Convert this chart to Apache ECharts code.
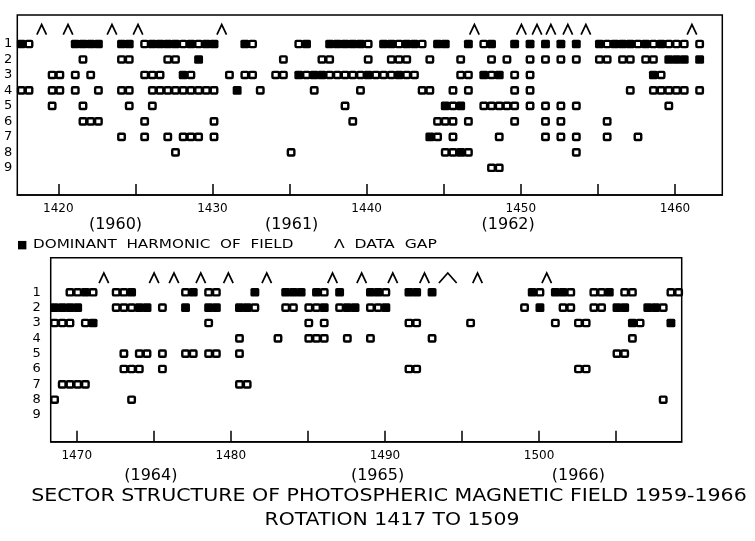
<!DOCTYPE html>
<html><head><meta charset="utf-8">
<script src="https://cdn.jsdelivr.net/npm/echarts@6/dist/echarts.min.js"></script>
<style>html,body{margin:0;padding:0;background:#fff}#c{width:755px;height:541px}</style>
</head><body><div id="c"></div>
<script>
const FONT = 'DejaVu Sans';
// Harmonic rows 1..9 ; each character = one half-rotation bin
// '.' none, 'o' harmonic present, '#' dominant harmonic of field
const binWidth = 0.5;
const topStart = 1417.35;
const topRow1 = "#o.....###" + "#..##.o###" + "#o#o##...#" + "o.....o#.." + "#####o.##o" + "##o.##..#." + "o#..#.#.#." + "#.#..#o###" + "o#o#ooo.o." + "..";
const topRow2 = "........o." + "...oo....o" + "o..#......" + "....o....o" + "o....o..oo" + "o..o...o.." + ".o.o..o.o." + "o.o..oo.oo" + ".oo.###.#." + "..";
const topRow3 = "....oo.o.o" + "......ooo." + ".#o....o.o" + "o..oo.#o##" + "ooooo#ooo#" + "oo.....oo." + "#o#.o.o..." + ".........." + "..#o......" + "..";
const topRow4 = "oo..oo.o.." + "o..oo..ooo" + "oooooo..#." + ".o......o." + "....o....." + "..oo..o.o." + "....o.o..." + ".........o" + "..ooooo.o." + "..";
const topRow5 = "....o...o." + "....o..o.." + ".........." + ".........." + "..o......." + ".....#o#.." + "ooooo.o.o." + "o.o......." + "....o....." + "..";
const topRow6 = "........oo" + "o.....o..." + ".....o...." + ".........." + "...o......" + "....ooo.o." + "....o...o." + "o.....o..." + ".........." + "..";
const topRow7 = ".........." + "...o..o..o" + ".ooo.o...." + ".........." + ".........." + "...#o.o..." + "..o.....o." + "o.o...o..." + "o........." + "..";
const topRow8 = ".........." + ".........." + "o........." + ".....o...." + ".........." + ".....oo#o." + ".........." + "..o......." + ".........." + "..";
const topRow9 = ".........." + ".........." + ".........." + ".........." + ".........." + ".........." + ".oo......." + ".........." + ".........." + "..";
const topRows = [topRow1, topRow2, topRow3, topRow4, topRow5, topRow6, topRow7, topRow8, topRow9];

const bottomStart = 1468.31;
const botRow1 = "..oo#o..oo" + "#......o#." + "oo....#..." + "###.#o.#.." + ".##o..##.#" + ".........." + "..#o.##o.." + "oo#.oo...." + "oo";
const botRow2 = "####....oo" + "o##.o..#.." + "##..##o..." + "oo.oo#.o##" + ".oo#......" + ".........." + ".o.#..oo.." + "oo.##..##o" + "..";
const botRow3 = "ooo.o#...." + ".........." + "o........." + "...o.o...." + "......oo.." + "....o....." + ".....o..oo" + ".....#o..." + "#.";
const botRow4 = ".........." + ".........." + "....o....o" + "...ooo..o." + ".o.......o" + ".........." + ".........." + ".....o...." + "..";
const botRow5 = ".........o" + ".oo.o..oo." + "oo..o....." + ".........." + ".........." + ".........." + ".........." + "...oo....." + "..";
const botRow6 = ".........o" + "oo..o....." + ".........." + ".........." + "......oo.." + ".........." + "........oo" + ".........." + "..";
const botRow7 = ".oooo....." + ".........." + "....oo...." + ".........." + ".........." + ".........." + ".........." + ".........." + "..";
const botRow8 = "o........." + "o........." + ".........." + ".........." + ".........." + ".........." + ".........." + ".........o" + "..";
const botRow9 = "";
const bottomRows = [botRow1, botRow2, botRow3, botRow4, botRow5, botRow6, botRow7, botRow8, botRow9];

// data gaps: [rotation, duration in rotations]
const topGaps = [[1418.92,0.62],[1420.63,0.62],[1423.48,0.62],[1425.17,0.62],[1430.6,0.62],[1446.99,0.62],[1450.04,0.62],[1451.05,0.62],[1451.95,0.62],[1453.05,0.62],[1454.22,0.62],[1461.1,0.62]];
const bottomGaps = [[1471.76,0.62],[1475.02,0.62],[1476.31,0.62],[1478.05,0.62],[1479.84,0.62],[1482.33,0.62],[1486.6,0.62],[1488.49,0.62],[1490.51,0.62],[1492.57,0.62],[1494.08,1.15],[1496.01,0.62],[1500.5,0.62]];

const harmonics = [1,2,3,4,5,6,7,8,9];
const topTicks = [1420,1425,1430,1435,1440,1445,1450,1455,1460];
const topLabels = [1420,1430,1440,1450,1460];
const bottomTicks = [1470,1475,1480,1485,1490,1495,1500,1505];
const bottomLabels = [1470,1480,1490,1500];
const topYearPos = [1423.71,1435.14,1449.18];
const topYearText = ['(1960)','(1961)','(1962)'];
const bottomYearPos = [1474.81,1489.52,1502.55];
const bottomYearText = ['(1964)','(1965)','(1966)'];

function toCells(rows, start) {
  const out = [];
  rows.forEach((s, i) => {
    for (let j = 0; j < s.length; j++) {
      const ch = s[j];
      if (ch === 'o') out.push([start + j * binWidth, i + 1, 0]);
      else if (ch === '#') out.push([start + j * binWidth, i + 1, 1]);
    }
  });
  return out;
}
const CELL_H = 7.4;
function renderCell(params, api) {
  const x = api.value(0), y = api.value(1), t = api.value(2);
  const p0 = api.coord([x, y]);
  const p1 = api.coord([x + binWidth, y]);
  const w = p1[0] - p0[0];
  const h = CELL_H;
  if (t === 1) {
    return {type: 'rect', shape: {x: p0[0] - 0.6, y: p0[1] - h / 2 - 0.6, width: w + 1.2, height: h + 1.2, r: 1.5},
      style: {fill: '#000'}};
  }
  return {type: 'rect', z2: 2, shape: {x: p0[0] + 0.6, y: p0[1] - h / 2 + 0.6, width: w - 1.2, height: h - 1.2, r: 1},
    style: {fill: '#fff', stroke: '#000', lineWidth: 2.4}};
}
const GAP_Y = 0.07;
function renderGap(params, api) {
  const r = api.value(0), d = api.value(1);
  const c = api.coord([r, GAP_Y]);
  const e = api.coord([r + d / 2, GAP_Y]);
  const hw = e[0] - c[0];
  return {type: 'polyline', shape: {points: [[c[0] - hw, c[1] + 5], [c[0], c[1] - 5], [c[0] + hw, c[1] + 5]]},
    style: {fill: null, stroke: '#000', lineWidth: 1.7}};
}
function lookup(pos, txt) {
  return function (v) {
    let best = 0;
    for (let i = 1; i < pos.length; i++) if (Math.abs(pos[i] - v) < Math.abs(pos[best] - v)) best = i;
    return txt[best];
  };
}
const axisText = {color: '#000', fontFamily: FONT};
function mainX(grid, min, max, ticks, labels) {
  return {gridIndex: grid, type: 'value', min: min, max: max, position: 'bottom',
    axisLine: {show: true, onZero: false, lineStyle: {color: '#000', width: 1.5}},
    splitLine: {show: false},
    axisTick: {show: true, inside: true, length: 11, lineStyle: {color: '#000', width: 1.5}, customValues: ticks},
    axisLabel: Object.assign({customValues: labels, margin: 8, fontSize: 12, formatter: v => String(v)}, axisText)};
}
function yearX(grid, min, max, pos, txt, margin) {
  return {gridIndex: grid, type: 'value', min: min, max: max, position: 'bottom',
    axisLine: {show: false, onZero: false}, splitLine: {show: false}, axisTick: {show: false},
    axisLabel: Object.assign({customValues: pos, margin: margin, fontSize: 16, formatter: lookup(pos, txt)}, axisText)};
}
function mainY(grid, min, max, margin) {
  return {gridIndex: grid, type: 'value', inverse: true, min: min, max: max,
    axisLine: {show: false, onZero: false}, axisTick: {show: false}, splitLine: {show: false},
    axisLabel: Object.assign({customValues: harmonics, margin: margin, fontSize: 13}, axisText)};
}
const chart = echarts.init(document.getElementById('c'), null, {renderer: 'canvas'});
chart.setOption({
  backgroundColor: '#fff',
  animation: false,
  grid: [
    {left: 17.3, top: 15, width: 705, height: 180, show: true, borderColor: '#000', borderWidth: 1.5},
    {left: 50.7, top: 257.7, width: 631, height: 184, show: true, borderColor: '#000', borderWidth: 1.5}
  ],
  xAxis: [
    mainX(0, 1417.34, 1463.07, topTicks, topLabels),
    mainX(1, 1468.31, 1509.26, bottomTicks, bottomLabels),
    yearX(0, 1417.34, 1463.07, topYearPos, topYearText, 22),
    yearX(1, 1468.31, 1509.26, bottomYearPos, bottomYearText, 26)
  ],
  yAxis: [
    mainY(0, -0.873, 10.757, 5),
    mainY(1, -1.257, 10.74, 10)
  ],
  series: [
    {type: 'custom', xAxisIndex: 0, yAxisIndex: 0, renderItem: renderCell, data: toCells(topRows, topStart), clip: false},
    {type: 'custom', xAxisIndex: 1, yAxisIndex: 1, renderItem: renderCell, data: toCells(bottomRows, bottomStart), clip: false},
    {type: 'custom', xAxisIndex: 0, yAxisIndex: 0, renderItem: renderGap, data: topGaps, clip: false},
    {type: 'custom', xAxisIndex: 1, yAxisIndex: 1, renderItem: renderGap, data: bottomGaps, clip: false}
  ],
  graphic: [
    {type: 'text', x: 17, y: 245, style: {text: '■', fontFamily: FONT, fontSize: 11, fill: '#000', textAlign: 'left', textVerticalAlign: 'middle'}},
    {type: 'text', x: 33, y: 245, scaleX: 1.17, style: {text: 'DOMINANT  HARMONIC  OF  FIELD', fontFamily: FONT, fontSize: 13, fill: '#000', textAlign: 'left', textVerticalAlign: 'middle'}},
    {type: 'text', x: 334, y: 245, scaleX: 1.2, style: {text: 'Λ  DATA  GAP', fontFamily: FONT, fontSize: 13, fill: '#000', textAlign: 'left', textVerticalAlign: 'middle'}},
    {type: 'text', x: 389, y: 497, scaleX: 1.21, style: {text: 'SECTOR STRUCTURE OF PHOTOSPHERIC MAGNETIC FIELD 1959-1966', fontFamily: FONT, fontSize: 17, fill: '#000', textAlign: 'center', textVerticalAlign: 'middle'}},
    {type: 'text', x: 392, y: 521, scaleX: 1.2, style: {text: 'ROTATION 1417 TO 1509', fontFamily: FONT, fontSize: 17, fill: '#000', textAlign: 'center', textVerticalAlign: 'middle'}}
  ]
});
</script></body></html>
